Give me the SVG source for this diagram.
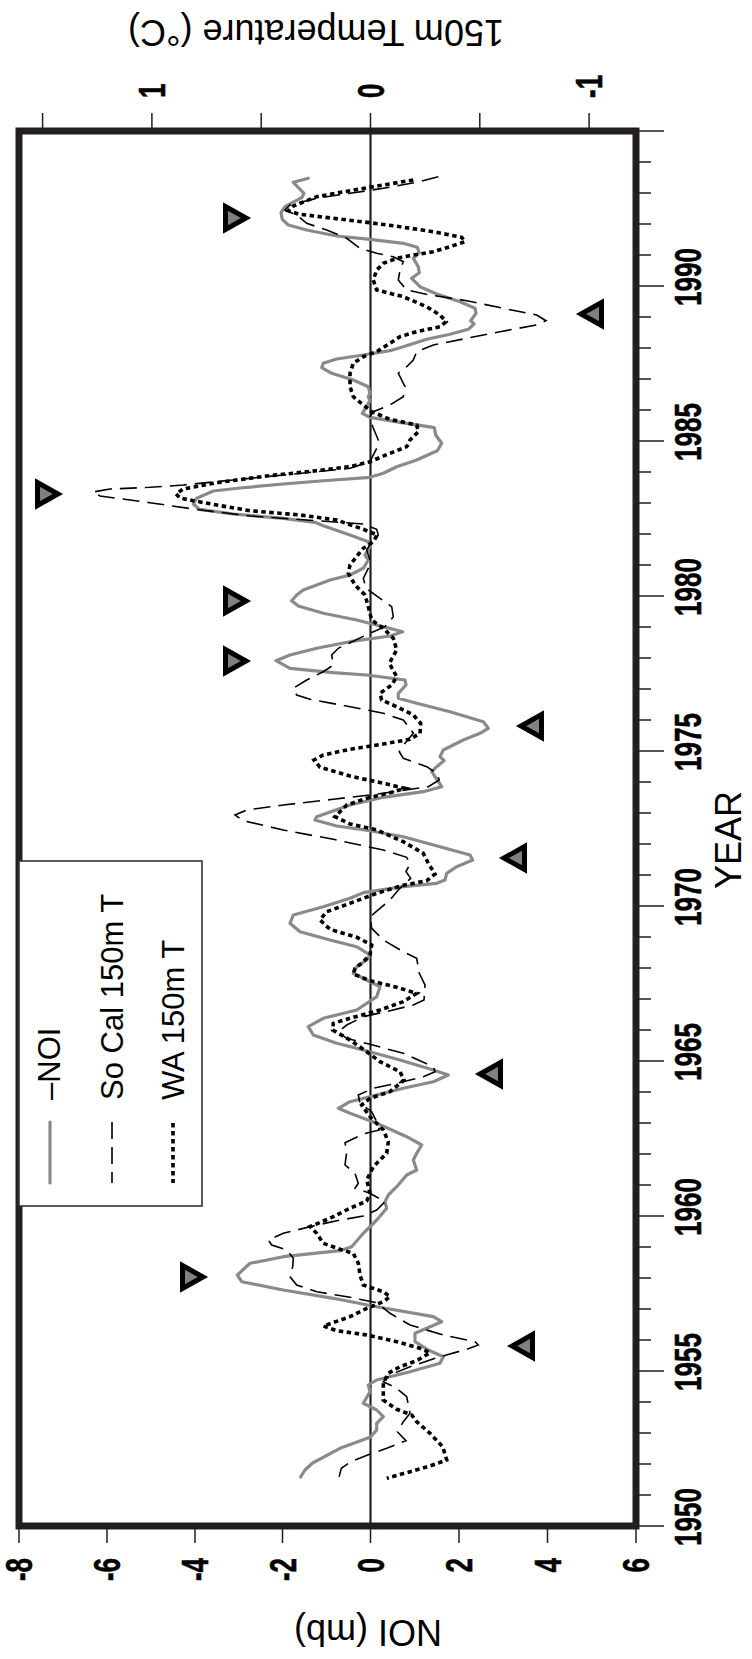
<svg xmlns="http://www.w3.org/2000/svg" width="752" height="1659" viewBox="0 0 752 1659">
<style>
text{font-family:"Liberation Sans",Arial,Helvetica,sans-serif;fill:#000}
.tl{font-size:26px;font-weight:bold;stroke:#000;stroke-width:0.4}
.ttl{font-size:36px}
.leg{font-size:31px}
.frame{fill:none;stroke:#231f20;stroke-width:7}
.tick{stroke:#231f20;stroke-width:1.5}
.zero{stroke:#231f20;stroke-width:2.2}
.noi{fill:none;stroke:#8a8a8a;stroke-width:3.2;stroke-linejoin:round;stroke-linecap:round}
.socal{fill:none;stroke:#000;stroke-width:1.6;stroke-dasharray:17 8}
.wa{fill:none;stroke:#000;stroke-width:3.6;stroke-dasharray:4.5 3.5}
.tri{fill:#808080;stroke:#000;stroke-width:5;stroke-linejoin:miter}
</style>
<defs>
<polygon id="tr" class="tri" points="2.5,-11.5 2.5,11.5 23,0"/>
<polygon id="tl" class="tri" points="26.5,-11.5 26.5,11.5 6,0"/>
</defs>
<rect width="752" height="1659" fill="#fff"/>

<g id="axes">
<line class="zero" x1="370.5" y1="131" x2="370.5" y2="1526"/>
<g id="year-ticks" class="tick">
<path d="M636 1526H664M636 1495H651M636 1464H651M636 1433H651M636 1402H651M636 1371H664M636 1340H651M636 1309H651M636 1278H651M636 1247H651M636 1216H664M636 1185H651M636 1154H651M636 1123H651M636 1092H651M636 1061H664M636 1030H651M636 999H651M636 968H651M636 937H651M636 906H664M636 875H651M636 844H651M636 813H651M636 782H651M636 751H664M636 720H651M636 689H651M636 658H651M636 627H651M636 596H664M636 565H651M636 534H651M636 503H651M636 472H651M636 441H664M636 410H651M636 379H651M636 348H651M636 317H651M636 286H664M636 255H651M636 224H651M636 193H651M636 162H651M636 131H664"/>
</g>
<g id="noi-ticks" class="tick">
<path d="M19 1526V1543M107 1526V1543M195 1526V1543M282.5 1526V1543M370.5 1526V1543M459 1526V1543M547.5 1526V1543M636 1526V1543"/>
</g>
<g id="temp-ticks" class="tick">
<path d="M42.6 131V113M151.9 131V113M261.2 131V113M370.5 131V113M479.8 131V113M589.1 131V113"/>
</g>
<rect class="frame" x="19" y="131" width="617" height="1395"/>
<g id="year-labels" class="tl" text-anchor="middle">
<text transform="translate(701,1517) scale(1.42,1) rotate(-90)">1950</text>
<text transform="translate(701,1362) scale(1.42,1) rotate(-90)">1955</text>
<text transform="translate(701,1207) scale(1.42,1) rotate(-90)">1960</text>
<text transform="translate(701,1052) scale(1.42,1) rotate(-90)">1965</text>
<text transform="translate(701,897) scale(1.42,1) rotate(-90)">1970</text>
<text transform="translate(701,742) scale(1.42,1) rotate(-90)">1975</text>
<text transform="translate(701,587) scale(1.42,1) rotate(-90)">1980</text>
<text transform="translate(701,432) scale(1.42,1) rotate(-90)">1985</text>
<text transform="translate(701,277) scale(1.42,1) rotate(-90)">1990</text>
</g>
<g id="noi-labels" class="tl" text-anchor="end">
<text transform="translate(32,1558) scale(1.42,1) rotate(-90)">-8</text>
<text transform="translate(120,1558) scale(1.42,1) rotate(-90)">-6</text>
<text transform="translate(208,1558) scale(1.42,1) rotate(-90)">-4</text>
<text transform="translate(295.5,1558) scale(1.42,1) rotate(-90)">-2</text>
<text transform="translate(383.5,1558) scale(1.42,1) rotate(-90)">0</text>
<text transform="translate(472,1558) scale(1.42,1) rotate(-90)">2</text>
<text transform="translate(560.5,1558) scale(1.42,1) rotate(-90)">4</text>
<text transform="translate(649,1558) scale(1.42,1) rotate(-90)">6</text>
</g>
<g id="temp-labels" class="tl" text-anchor="start">
<text transform="translate(165,98) scale(1.42,1) rotate(-90)">1</text>
<text transform="translate(383.5,98) scale(1.42,1) rotate(-90)">0</text>
<text transform="translate(602,98) scale(1.42,1) rotate(-90)">-1</text>
</g>
<text id="year-title" class="ttl" text-anchor="middle" font-size="37" transform="translate(741,840) rotate(-90)">YEAR</text>
<text id="noi-title" class="ttl" text-anchor="middle" transform="translate(368,1620) rotate(180)">NOI (mb)</text>
<text id="temp-title" class="ttl" text-anchor="middle" transform="translate(316,20) rotate(180)">150m Temperature (°C)</text>
</g>

<g id="connectors">
<polyline id="noi-curve" class="noi" points="308.3,178.3 293.3,182.3 304,193.3 301.7,197.7 285,206.7 281,212.7 282.3,219.3 288.3,225 306.7,230 336.7,236 370,239.3 403.3,243.3 417.3,247.3 419.3,252.7 413.3,258.3 418.3,266.7 419.3,272.7 411.7,278.3 420,286.7 436.7,294 460,301.7 475,308.3 476,313.3 470.7,320.7 474,324 468.3,329.3 450,334.3 426.7,339.3 403.3,346.7 390,350.7 363.3,355 336.7,359 323.3,363.3 321.7,367.7 331.7,373.3 353.3,380 368.3,386.7 370,393.3 368.3,396.7 370,400.7 366,407.3 362.3,413.3 370,417.3 400,422.3 420,425.3 434.3,427.7 435.7,435 441.7,443.3 437.3,450.7 416.7,460 396.7,466.7 383.3,473.3 370,477.3 320,481 283.3,484 240,488 213.3,491 196.7,498.3 193.3,504 199.3,509.3 233.3,514 283.3,518.3 315,522.3 323.3,525.7 350,535 368.3,541.7 370,546.7 365,555 368.3,560 363.3,568.3 350,575 330,580 303.3,590 296.7,595 291.7,600.7 298.3,606 323.3,613.3 356.7,620 383.3,626.7 402.7,631.7 390,636 350,641.7 316.7,648.3 290,655 276,660.7 290,668.3 333.3,672.7 366.7,675 405,680 406,685 398.3,693.3 398.3,698.3 416.7,703.3 450,711.7 483.3,721.7 488.3,728.3 480,733.3 463.3,740 443.3,750 440,756.7 444,760.7 436.7,766.7 431.7,771.7 437.3,780 441.7,786.7 423.3,791.7 383.3,797.3 350,805 316.7,816.7 315,820 336.7,826 370,830.7 403.3,836.7 440,846.7 470,855 472.7,860 456.7,866.7 446.7,873.3 445,880 436.7,883.3 403.3,886.7 363.3,892.7 350,898.3 323.3,906.7 293.3,915 290,923.3 300,931.7 330,940 356.7,946.7 370,955 366.7,960 356.7,966.7 353.3,973.3 380,986.7 376.7,996.7 356.7,1010 323.3,1018.3 308.3,1026.7 313.3,1035 336.7,1043.3 363.3,1050 400,1060 433.3,1070 448.3,1075 433.3,1081.7 403.3,1088.3 376.7,1095 350,1101.7 338.3,1108.3 350,1113.3 376.7,1123.3 406.7,1136.7 421.7,1145 416.7,1153.3 413.3,1160 416.7,1170 406.7,1175 396.7,1186.7 388.3,1195 385,1201.7 386.7,1208.3 376.7,1220 363.3,1233.3 351.7,1246.7 340,1250.7 283.3,1256.7 250,1263.3 237.3,1275 241.7,1281.7 283.3,1290 333.3,1298.3 376.7,1306.7 433.3,1316.7 441.7,1321.7 426.7,1328.3 415,1333.3 415,1341.7 428.3,1350 443.3,1356.7 440,1363.3 410,1371.7 376.7,1380 368.3,1385 370,1391.7 363.3,1403.3 376.7,1410 383.3,1416.7 376.7,1423.3 376.7,1430 370,1437.3 340,1448.3 312.6,1463 305,1470 300.6,1477"/>
<polyline id="socal-curve" class="socal" points="438.3,176.7 416.7,182.3 383.3,188.3 350,193.3 316.7,198.3 290,205 285,210 296.7,215 306.7,223.3 326.7,230 346.7,238.3 360,248.3 376.7,253.3 393.3,256.7 403.3,261.7 400,270 398.3,280 406.7,290 430,295 466.7,300.7 503.3,308.3 536.7,315 546,320.7 536.7,325 500,331.7 466.7,338.3 433.3,345 416.7,351.7 413.3,360 406.7,366.7 398.3,373.3 405,386.7 403.3,396.7 390,405 373.3,411.7 370,416.7 372.7,426.7 378.3,440 376.7,448.3 370,461.7 350,468.3 316.7,471.7 283.3,475 233.3,480 183.3,485 150,487.3 110,489 93,492 100,496 150,502.7 195,509.3 250,516 316.7,520.7 363.3,524 376.7,529.3 378.3,535 371.7,541.7 366.7,550 370,560 368.3,568.3 363.3,578.3 366,588.3 380,598.3 391.7,606.7 393.3,616.7 385,626.7 368.3,634 350,642.7 338.3,648.3 331.7,655 333.3,665 323.3,671.7 306.7,680 293.3,688.3 296.7,695 310,699.3 350,706.7 383.3,713.3 403.3,720 410,728.3 413.3,733.3 405,743.3 399.3,751.7 403.3,758.3 426.7,766.7 436.7,773.3 439.3,780 428.3,786.7 383.3,793.3 333.3,799.3 283.3,805 246.7,810 235,815 243.3,820.7 283.3,830 333.3,839.3 383.3,850 406.7,857.3 410,864 406,871.7 410.7,878.3 398.3,890 390,900 380,908.3 370,916.7 371.7,928.3 383.3,940 403.3,951.7 416.7,958.3 419.3,973.3 425,985 424,1000 413.3,1005 390,1010.7 363.3,1016.7 346.7,1025 338.3,1031.7 346.7,1038.3 370,1044.3 403.3,1053.3 433.3,1066.7 435,1071.7 423.3,1076.7 396.7,1083.3 373.3,1088.3 358.3,1095 360,1103.3 371.7,1111.7 376.7,1121.7 379.3,1130 363.3,1134 345,1142.7 346.7,1151.7 345,1165 355,1173.3 358.3,1183.3 355,1188.3 370,1193.3 385,1201.7 376.7,1210 363.3,1216 336.7,1220.7 310,1226.7 283.3,1233.3 268.3,1240 271.7,1245 286.7,1250 293.3,1258.3 292.7,1266.7 290,1276.7 296.7,1285 316.7,1291.7 350,1297.3 376.7,1302.7 390,1313.3 410,1325 443.3,1335 475,1341.7 478.3,1345 466.7,1349.3 440,1356.7 410,1366.7 390,1375 383.3,1381.7 396.7,1388.3 406.7,1396.7 410,1413.3 403.3,1421.7 397.3,1431.7 406,1440.7 386.8,1448.3 367.7,1455 351,1461.7 341.3,1468.3 339,1477.3"/>
<polyline id="wa-curve" class="wa" points="413.3,180 383.3,185 350,190.7 316.7,196.7 293.3,206 288.3,210.7 298.3,214 333.3,218.3 370,222.7 400,226.7 433.3,231.7 461.7,237.3 465,241.7 450,246.7 433.3,251.7 413.3,255 396.7,258.3 383.3,263.3 376.7,270 373.3,280 376.7,290 403.3,296.7 426.7,306.7 440,315 446,321.7 440,326.7 416.7,331.7 400,336.7 390,343.3 376.7,351.7 363.3,356.7 353.3,363.3 350,373.3 350,386.7 353.3,396.7 363.3,405 371.7,411.7 390,419.3 416.7,425 418.3,431.7 410,440 406.7,446.7 390,453.3 370,461.7 350,466.7 316.7,470.7 266.7,476 216.7,482.7 183.3,489 176,494 180,498 193.3,500.7 216.7,505 250,510.7 300,515 336.7,520 363.3,529.3 377.3,535 373.3,541.7 363.3,548.3 350,565 348.3,573.3 355,585 365,595 368.3,606.7 371.7,620 383.3,628.3 393.3,638.3 396.7,650 389.3,663.3 396.7,676.7 391.7,685 380,693.3 381.7,700 396.7,706.7 413.3,715 420.7,723.3 420,733.3 410,739.3 383.3,744 350,749.3 323.3,755 314,760 320,767.3 350,776 383.3,783.3 405,788.3 390,792.7 366.7,798.3 346.7,805 335,816.7 350,824 376.7,830 403.3,841.7 423.3,853.3 428.3,863.3 435,874 426.7,880.7 403.3,885.3 376.7,893.3 350,903.3 326.7,911.7 320,920 330,929.3 356.7,937.3 371.7,945 370,955 361.7,963.3 355,968.3 353.3,974 370,980.7 396.7,987.3 416.7,993.3 403.3,1001.7 380,1010 350,1018.3 333.3,1023.3 332.7,1030 350,1040 366.7,1051.7 380,1061.7 400,1071.7 404,1080 390,1091.7 370,1098.3 361.7,1105 370,1116.7 383.3,1130 388.3,1141.7 386.7,1153.3 373.3,1166.7 366.7,1180 370,1193.3 366.7,1201 350,1208.3 330,1218.3 310,1226.7 316.7,1233.3 323.3,1243.3 340,1249.3 353.3,1253.3 358.3,1263.3 360,1275 363.3,1285 383.3,1291.7 390,1296.7 383.3,1301.7 366.7,1308.3 350,1316.7 323.3,1326 336.7,1330.7 366.7,1335 396.7,1341.7 420,1348.3 430,1352.7 416.7,1360.7 400,1366.7 388.3,1373.3 383.3,1383.3 383.3,1400 396.7,1409.3 411.7,1415 416.7,1421.7 430,1433.3 442.7,1446.7 446.7,1460 430,1466 386.8,1478.3"/>
</g>

<g id="markers">
<use href="#tr" x="223" y="218"/>
<use href="#tr" x="35" y="494"/>
<use href="#tr" x="223" y="601"/>
<use href="#tr" x="223" y="661"/>
<use href="#tr" x="180" y="1277"/>
<use href="#tl" x="575" y="314"/>
<use href="#tl" x="515" y="726"/>
<use href="#tl" x="498" y="858"/>
<use href="#tl" x="474" y="1074"/>
<use href="#tl" x="506" y="1346"/>
</g>

<g id="legend">
<rect x="19" y="861" width="183" height="345" fill="#fff" stroke="#333" stroke-width="1.6"/>
<line class="noi" x1="50" y1="1122" x2="50" y2="1183"/>
<line class="socal" x1="112" y1="1122" x2="112" y2="1183"/>
<line class="wa" x1="173" y1="1123" x2="173" y2="1183"/>
<text class="leg" transform="translate(60,1100) rotate(-90)">–NOI</text>
<text class="leg" transform="translate(123,1100) rotate(-90)">So Cal 150m T</text>
<text class="leg" transform="translate(184,1100) rotate(-90)">WA 150m T</text>
</g>
</svg>
